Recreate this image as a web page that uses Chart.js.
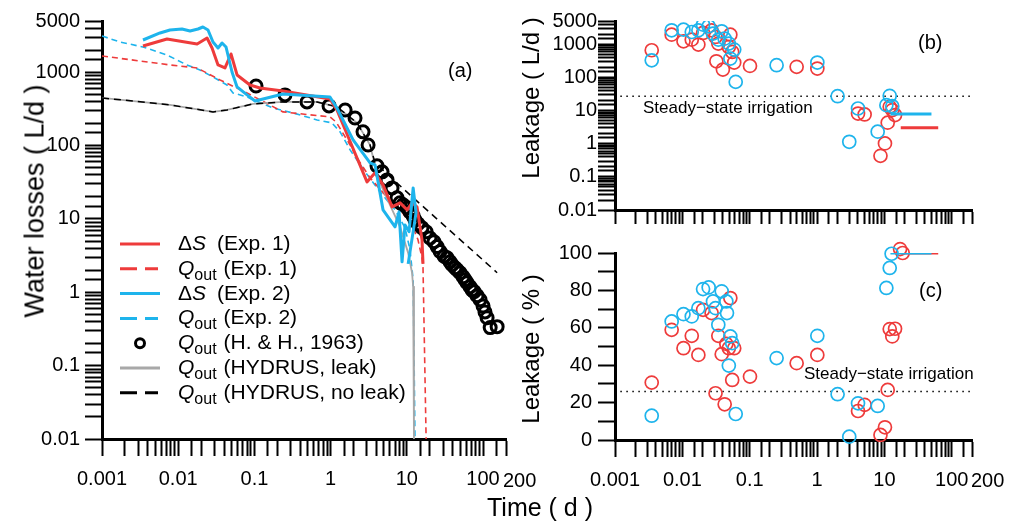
<!DOCTYPE html>
<html>
<head>
<meta charset="utf-8">
<script src="https://cdn.jsdelivr.net/npm/chart.js@4.4.0/dist/chart.umd.min.js"></script>
<style>
  body { margin: 0; background: #fff; }
  #wrap { position: relative; width: 1015px; height: 523px; overflow: hidden; font-family: 'Liberation Sans', Arial, sans-serif; }
  canvas { position: absolute; }
  .title { position: absolute; white-space: nowrap; color: #000; transform: translate(-50%, -50%); }
  .vert { transform: translate(-50%, -50%) rotate(-90deg); }
</style>
</head>
<body>
<div id="wrap">
  <canvas id="chartA" width="545" height="523" style="left:0;top:0"></canvas>
  <canvas id="chartB" width="495" height="235" style="left:520px;top:0"></canvas>
  <canvas id="chartC" width="495" height="288" style="left:520px;top:235px"></canvas>
  <div class="title vert" style="left:35px;top:201px;font-size:27px">Water losses ( L/d )</div>
  <div class="title vert" style="left:531px;top:98px;font-size:24px">Leakage ( L/d )</div>
  <div class="title vert" style="left:531px;top:349px;font-size:24px">Leakage ( % )</div>
  <div class="title" style="left:540px;top:507px;font-size:25px">Time ( d )</div>
</div>
<script>
// ---- panel (a): water losses (L/d) vs time (d) ----
const timeExp1 = [0.00345, 0.00713, 0.0177, 0.0239, 0.0278, 0.0333, 0.0411, 0.0493, 0.0592, 0.0875, 0.118, 0.237, 0.98, 1.21, 3.0, 3.83, 4.87, 6.4, 8.14, 10.1, 11.7, 13.6, 15.8, 16.3];
const dsExp1 = [2282, 2843, 2431, 2933, 2143, 1259, 1145, 1776, 919, 671, 611, 556, 433, 306, 32, 42.5, 29.2, 14.6, 16.6, 13.3, 16.6, 14.6, 5.2, 2.44];

const timeExp2 = [0.00345, 0.00577, 0.0078, 0.0112, 0.0143, 0.0182, 0.0211, 0.0246, 0.0286, 0.0333, 0.0376, 0.0424, 0.0508, 0.0592, 0.080, 0.102, 0.237, 0.98, 1.21, 1.97, 3.29, 3.83, 4.87, 7.0, 7.9, 8.65, 9.47, 10.7, 12.1, 13.2, 10.4];
const dsExp2 = [2754, 3433, 3770, 3890, 3654, 3890, 4140, 3770, 2588, 2143, 2508, 2212, 1009, 631, 491, 406, 506, 461, 326, 120, 58, 54.6, 13.3, 7.8, 12.5, 2.6, 8.3, 6.7, 26.5, 12.1, 2.44];

const qTimeExp1 = [0.001, 0.0078, 0.0177, 0.0354, 0.080, 0.237, 0.98, 1.18, 1.80, 2.22, 3.29, 5.18, 8.14, 11.7, 14.0, 15.8, 16.3, 17.9];
const qExp1 = [1667, 1259, 1145, 785, 522, 288, 246, 210, 102, 68, 36.3, 21.3, 13.3, 8.3, 5.2, 2.95, 2.16, 0.01];

const qTimeExp2 = [0.001, 0.00172, 0.00345, 0.00713, 0.0130, 0.0193, 0.0286, 0.0436, 0.0524, 0.080, 0.096, 0.175, 0.321, 0.664, 1.04, 1.33, 1.80, 2.83, 4.45, 7.0, 9.47, 11.0, 12.1, 12.8];
const qExp2 = [3126, 2588, 2212, 1721, 1259, 1075, 863, 671, 522, 461, 420, 326, 279, 224, 204, 154, 87.5, 43.9, 23.4, 13.3, 7.6, 3.8, 1.48, 0.01];

const hhTime = [0.105, 0.252, 0.49, 0.953, 1.55, 2.09, 2.66, 3.10, 4.06, 4.73, 5.50, 6.39, 7.43, 8.14, 8.91, 10.1, 11.0, 12.1, 12.8, 14.0, 15.8, 17.9, 20.1, 22.7, 24.9, 27.3, 30.8, 33.7, 36.9, 39.2, 42.9, 45.6, 49.9, 54.7, 58.1, 61.7, 67.5, 71.7, 76.2, 83.4, 91.4, 100, 106, 113, 124, 153];
const hhQ = [650, 491, 394, 348, 306, 238, 154, 102, 53, 43.9, 34.1, 26.5, 19.4, 16.6, 15.6, 14.2, 12.5, 11.0, 9.7, 8.6, 7.6, 6.7, 5.5, 4.9, 4.2, 3.6, 3.1, 2.95, 2.6, 2.37, 2.16, 2.03, 1.85, 1.63, 1.48, 1.35, 1.19, 1.08, 1.02, 0.90, 0.79, 0.65, 0.54, 0.45, 0.33, 0.34];

const hydTimeLeak = [0.001, 0.0078, 0.0286, 0.0436, 0.096, 0.237, 0.664, 1.21, 2.22, 3.29, 3.83, 4.45, 6.0, 8.14, 10.4, 11.7, 12.1, 12.4, 12.4];
const hydLeak = [447, 359, 288, 306, 370, 394, 394, 337, 204, 102, 53, 31, 15.6, 7.8, 3.45, 1.85, 1.19, 0.42, 0.01];

const hydTimeNoLeak = [0.001, 0.0078, 0.0286, 0.0436, 0.096, 0.237, 0.664, 1.21, 2.22, 3.29, 3.83, 11.0, 153];
const hydNoLeak = [447, 359, 288, 306, 370, 394, 394, 337, 204, 102, 58, 21.3, 1.85];

// ---- panel (b): leakage (L/d) ----
const leakTimeExp1 = [0.00351, 0.00694, 0.0104, 0.0138, 0.0173, 0.0203, 0.0272, 0.0311, 0.032, 0.0342, 0.040, 0.049, 0.0516, 0.055, 0.0589, 0.101, 0.498, 1.01, 4.06, 5.09, 8.75, 10.2, 11.2, 12.0, 13.1, 14.4];
const leakLdExp1 = [655, 1940, 1222, 1371, 970, 2178, 2618, 1651, 305, 1040, 172, 826, 1940, 583, 279, 221, 207, 184, 8.1, 7.6, 0.43, 1.02, 4.3, 12.9, 10.3, 7.3];
const leakTimeExp2 = [0.00351, 0.00694, 0.0104, 0.0138, 0.0173, 0.0203, 0.0246, 0.0285, 0.0342, 0.0384, 0.0425, 0.049, 0.0516, 0.0589, 0.062, 0.251, 1.01, 2.02, 3.01, 4.06, 7.95, 10.7, 12.0, 13.1];
const leakLdExp2 = [327, 2618, 2742, 2333, 2618, 3880, 3459, 2080, 1371, 2443, 1469, 1040, 368, 686, 73, 232, 279, 27, 1.14, 11.5, 2.3, 14.5, 27.7, 13.5];

// ---- panel (c): leakage (%) ----
const pctTimeExp1 = [0.00351, 0.00694, 0.0104, 0.0138, 0.0173, 0.0203, 0.0272, 0.0311, 0.0342, 0.0384, 0.0425, 0.045, 0.049, 0.0516, 0.055, 0.0589, 0.101, 0.498, 1.01, 4.06, 5.09, 8.75, 10.2, 11.2, 12.0, 13.1, 14.4, 17.1, 18.7];
const pctExp1 = [30.7, 58.9, 49.1, 55.7, 45.5, 69.6, 67.9, 25.0, 55.7, 45.9, 19.1, 51.4, 49.1, 75.9, 32.1, 49.1, 33.9, 41.1, 45.5, 15.5, 18.8, 2.7, 6.8, 26.8, 59.3, 55.4, 59.5, 102.1, 100];
const pctTimeExp2 = [0.00351, 0.00694, 0.0104, 0.0138, 0.0173, 0.0203, 0.0246, 0.0285, 0.0311, 0.0342, 0.0384, 0.045, 0.046, 0.049, 0.0516, 0.055, 0.062, 0.251, 1.01, 2.02, 3.01, 4.06, 7.95, 10.7, 12.0, 12.8];
const pctExp2 = [13.0, 63.4, 67.3, 66.1, 70.5, 80.7, 81.6, 74.1, 70.5, 61.6, 79.5, 74.1, 67.9, 39.8, 55.4, 51.8, 13.9, 43.8, 55.7, 24.5, 1.8, 19.6, 18.2, 81.3, 92.0, 99.6];

// late-time steady leakage and steady-state irrigation reference
const lateTimeExp1 = [17.5, 63];
const lateLdExp1 = [3.0, 3.0];
const latePctExp1 = [100, 100];
const lateTimeExp2 = [12.3, 50];
const lateLdExp2 = [7.8, 7.8];
const latePctExp2 = [100, 100];
const steadyTime = [0.0012, 200];
const steadyLd = [27, 27];
const steadyPct = [26, 26];

// tick labels
const timeTickLabels = [0.001, 0.01, 0.1, 1, 10, 100];
const timeEndLabel = 200;
const lossTickLabels = [0.01, 0.1, 1, 10, 100, 1000, 5000];
const pctTickLabels = [0, 20, 40, 60, 80, 100];

const legendRows = [
  ['dS', '(Exp. 1)'], ['Q', '(Exp. 1)'], ['dS', '(Exp. 2)'], ['Q', '(Exp. 2)'],
  ['Q', '(H. & H., 1963)'], ['Q', '(HYDRUS, leak)'], ['Q', '(HYDRUS, no leak)']
];

const RED = '#EE3B3B', BLUE = '#1EB4EC', GRAY = '#A8A8A8', BLACK = '#000';
const FONT = "'Liberation Sans', Arial, sans-serif";

function pts(xs, ys) { return xs.map((x, i) => ({ x: x, y: ys[i] })); }

function tickText(list) {
  return function (v) {
    for (const t of list) {
      if (t === 0 ? v === 0 : Math.abs(Math.log10(v / t)) < 1e-6) return String(t);
    }
    return '';
  };
}

function line(data, color, width, dash, order) {
  return { data: data, showLine: true, borderColor: color, borderWidth: width, borderDash: dash,
    borderJoinStyle: 'round', pointRadius: 0, pointHoverRadius: 0, tension: 0, fill: false, order: order };
}

function rings(data, color, radius, width, order, noClip) {
  const ds = { data: data, showLine: false, pointRadius: radius, pointHoverRadius: radius,
    pointBorderColor: color, pointBackgroundColor: 'rgba(0,0,0,0)', pointBorderWidth: width,
    borderColor: color, backgroundColor: 'rgba(0,0,0,0)', order: order };
  if (noClip) ds.clip = false;
  return ds;
}

function axis(type, min, max, tickLen, pad, labels, fit) {
  return {
    type: type, min: min, max: max,
    border: { display: true, color: BLACK, width: 3 },
    grid: { display: true, drawOnChartArea: false, drawTicks: true, tickLength: tickLen, tickWidth: 2, tickColor: BLACK },
    ticks: { autoSkip: false, maxRotation: 0, minRotation: 0, padding: pad, color: BLACK,
      font: { family: FONT, size: 20 }, callback: labels ? tickText(labels) : function () { return ''; } },
    afterFit: fit
  };
}

// draws panel letters, notes and the end "200" label; panel (a) also gets its legend
function textPlugin(items, withLegend) {
  return {
    id: 'panelText',
    afterDraw(chart) {
      const ctx = chart.ctx;
      items.forEach(it => {
        ctx.save();
        ctx.font = it.font;
        ctx.fillStyle = BLACK;
        ctx.textAlign = 'left';
        ctx.textBaseline = 'alphabetic';
        const x = it.atValue !== undefined ? chart.scales.x.getPixelForValue(it.atValue) + it.dx : it.x;
        ctx.fillText(it.text, x, it.y);
        ctx.restore();
      });
      if (withLegend) drawLegend(ctx);
    }
  };
}

function drawLegend(ctx) {
  const styles = [
    { kind: 'solid', color: RED }, { kind: 'dash', color: RED },
    { kind: 'solid', color: BLUE }, { kind: 'dash', color: BLUE },
    { kind: 'ring', color: BLACK }, { kind: 'solid', color: GRAY }, { kind: 'dash', color: BLACK }
  ];
  legendRows.forEach((row, i) => {
    const base = 250 + i * 24.8, mid = base - 6, tx = 178;
    const st = styles[i];
    ctx.save();
    ctx.strokeStyle = st.color;
    ctx.lineWidth = 3;
    ctx.beginPath();
    if (st.kind === 'ring') {
      ctx.arc(140, mid, 4.5, 0, Math.PI * 2);
    } else {
      ctx.setLineDash(st.kind === 'dash' ? [17, 8] : []);
      ctx.moveTo(120, mid);
      ctx.lineTo(st.kind === 'dash' ? 158 : 160, mid);
    }
    ctx.stroke();
    ctx.setLineDash([]);
    ctx.fillStyle = BLACK;
    ctx.textBaseline = 'alphabetic';
    let x = tx;
    if (row[0] === 'dS') {
      ctx.font = '21px ' + FONT;
      ctx.fillText('Δ', x, base);
      x += ctx.measureText('Δ').width;
      ctx.font = 'italic 21px ' + FONT;
      ctx.fillText('S', x, base);
      x += ctx.measureText('S').width + 11;
    } else {
      ctx.font = 'italic 21px ' + FONT;
      ctx.fillText('Q', x, base);
      x += ctx.measureText('Q').width;
      ctx.font = '16px ' + FONT;
      ctx.fillText('out', x, base + 5);
      x += ctx.measureText('out').width + 7;
    }
    ctx.font = '21px ' + FONT;
    ctx.fillText(row[1], x, base);
    ctx.restore();
  });
}

const common = { responsive: false, animation: false, devicePixelRatio: 1,
  plugins: { legend: { display: false }, tooltip: { enabled: false } } };

new Chart(document.getElementById('chartA'), {
  type: 'scatter',
  data: { datasets: [
    line(pts(timeExp2, dsExp2), BLUE, 3, [], 0),
    line(pts(timeExp1, dsExp1), RED, 3, [], 1),
    rings(pts(hhTime, hhQ), BLACK, 6, 3, 2),
    line(pts(hydTimeNoLeak, hydNoLeak), BLACK, 1.5, [7, 5], 3),
    line(pts(hydTimeLeak, hydLeak), GRAY, 1.8, [], 4),
    line(pts(qTimeExp1, qExp1), RED, 1.6, [6, 4], 5),
    line(pts(qTimeExp2, qExp2), BLUE, 1.6, [6, 4], 6)
  ] },
  options: Object.assign({}, common, {
    layout: { padding: { left: 0, top: 21, right: 39, bottom: 24 } },
    scales: {
      x: axis('logarithmic', 0.001, 200, 17, 11, timeTickLabels, s => { s.height = 60; }),
      y: axis('logarithmic', 0.01, 5000, 17, 5, lossTickLabels, s => { s.width = 102; })
    }
  }),
  plugins: [textPlugin([
    { text: '(a)', font: '20px ' + FONT, x: 448, y: 77 },
    { text: String(timeEndLabel), font: '20px ' + FONT, atValue: timeEndLabel, dx: -3, y: 487 }
  ], true)]
});

new Chart(document.getElementById('chartB'), {
  type: 'scatter',
  data: { datasets: [
    line(pts(lateTimeExp2, lateLdExp2), BLUE, 3, [], 0),
    line(pts(lateTimeExp1, lateLdExp1), RED, 3, [], 1),
    rings(pts(leakTimeExp2, leakLdExp2), BLUE, 6.5, 1.7, 2),
    rings(pts(leakTimeExp1, leakLdExp1), RED, 6.5, 1.7, 3),
    line(pts(steadyTime, steadyLd), BLACK, 1.5, [1.5, 4.5], 4)
  ] },
  options: Object.assign({}, common, {
    layout: { padding: { left: 0, top: 21, right: 43, bottom: 0 } },
    scales: {
      x: axis('logarithmic', 0.001, 200, 14, 2, null, s => { s.height = 25; }),
      y: axis('logarithmic', 0.01, 5000, 17, 1, lossTickLabels, s => { s.width = 95; })
    }
  }),
  plugins: [textPlugin([
    { text: '(b)', font: '20px ' + FONT, x: 398, y: 49 },
    { text: 'Steady\u2212state irrigation', font: '17px ' + FONT, x: 123, y: 113 }
  ], false)]
});

const yPct = axis('linear', 0, 100, 17, 6, pctTickLabels, s => { s.width = 95; });
yPct.ticks.stepSize = 10;

new Chart(document.getElementById('chartC'), {
  type: 'scatter',
  data: { datasets: [
    line(pts(lateTimeExp2, latePctExp2), BLUE, 3, [], 0),
    line(pts(lateTimeExp1, latePctExp1), RED, 3, [], 1),
    rings(pts(pctTimeExp2, pctExp2), BLUE, 6.5, 1.7, 2, true),
    rings(pts(pctTimeExp1, pctExp1), RED, 6.5, 1.7, 3, true),
    line(pts(steadyTime, steadyPct), BLACK, 1.5, [1.5, 4.5], 4)
  ] },
  options: Object.assign({}, common, {
    layout: { padding: { left: 0, top: 18, right: 43, bottom: 23 } },
    scales: {
      x: axis('logarithmic', 0.001, 200, 17, 11, timeTickLabels, s => { s.height = 60; }),
      y: yPct
    }
  }),
  plugins: [textPlugin([
    { text: '(c)', font: '20px ' + FONT, x: 399, y: 62 },
    { text: 'Steady\u2212state irrigation', font: '17px ' + FONT, x: 284, y: 144 },
    { text: String(timeEndLabel), font: '20px ' + FONT, atValue: timeEndLabel, dx: -1, y: 252 }
  ], false)]
});
</script>
</body>
</html>
